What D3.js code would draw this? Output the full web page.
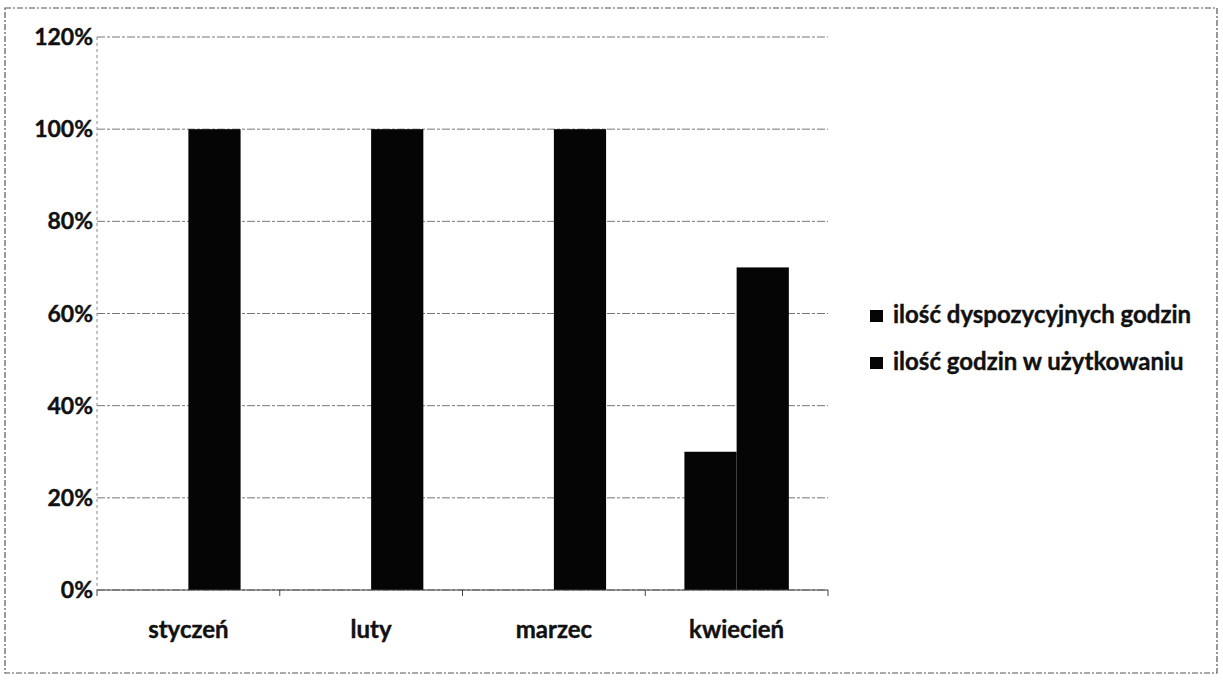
<!DOCTYPE html>
<html>
<head>
<meta charset="utf-8">
<script src="https://cdn.jsdelivr.net/npm/d3@7"></script>
<style>
  body { margin: 0; background: #fff; }
  svg text { font-family: Lato, "Open Sans", sans-serif; font-weight: bold; fill: #111; stroke: #111; stroke-width: 0.4px; }
</style>
</head>
<body>
<div id="chart"></div>
<script>
// data
var months = ["styczeń", "luty", "marzec", "kwiecień"];
var seriesNames = ["ilość dyspozycyjnych godzin", "ilość godzin w użytkowaniu"];
var dyspozycyjne = [0, 0, 0, 0.30];
var wUzytkowaniu = [1.00, 1.00, 1.00, 0.70];
var yTicks = [0, 0.2, 0.4, 0.6, 0.8, 1.0, 1.2];

var width = 1223, height = 680;
var margin = {left: 97, right: 395, top: 37, bottom: 90};

var svg = d3.select("#chart").append("svg")
  .attr("width", width)
  .attr("height", height);

// outer frame
svg.append("rect")
  .attr("x", 5).attr("y", 8)
  .attr("width", 1212).attr("height", 665)
  .attr("fill", "none")
  .attr("stroke", "#555")
  .attr("stroke-width", 1.2)
  .attr("stroke-dasharray", "6,2,2,2");

var x = d3.scaleBand()
  .domain(months)
  .range([margin.left, width - margin.right]);

var y = d3.scaleLinear()
  .domain([0, 1.2])
  .range([height - margin.bottom, margin.top]);

// gridlines
svg.append("g")
  .selectAll("line")
  .data(yTicks)
  .enter().append("line")
  .attr("x1", margin.left)
  .attr("x2", width - margin.right)
  .attr("y1", function(d) { return y(d); })
  .attr("y2", function(d) { return y(d); })
  .attr("stroke", "#777")
  .attr("stroke-width", 1)
  .attr("stroke-dasharray", "8,2,3,2");

// y axis line
svg.append("line")
  .attr("x1", margin.left).attr("x2", margin.left)
  .attr("y1", y(1.2)).attr("y2", y(0))
  .attr("stroke", "#888")
  .attr("stroke-dasharray", "3,3");

// bars (gap width 150%)
var inner = x.bandwidth() / 3.5;
var groups = [dyspozycyjne, wUzytkowaniu];
groups.forEach(function(vals, s) {
  svg.append("g")
    .selectAll("rect")
    .data(months)
    .enter().append("rect")
    .attr("x", function(d) { return x(d) + x.bandwidth() / 2 - inner + s * inner; })
    .attr("width", inner)
    .attr("y", function(d, i) { return y(vals[i]); })
    .attr("height", function(d, i) { return y(0) - y(vals[i]); })
    .attr("fill", "#050505");
});

// x axis
var xAxis = svg.append("g")
  .attr("transform", "translate(0," + y(0) + ")");
xAxis.append("line")
  .attr("x1", margin.left).attr("x2", width - margin.right)
  .attr("stroke", "#444").attr("stroke-width", 1.2);
xAxis.selectAll(".tk")
  .data(months.concat(["end"]))
  .enter().append("line")
  .attr("x1", function(d, i) { return i < months.length ? x(d) : x.range()[1]; })
  .attr("x2", function(d, i) { return i < months.length ? x(d) : x.range()[1]; })
  .attr("y1", 0).attr("y2", 6)
  .attr("stroke", "#444");
xAxis.selectAll("text")
  .data(months)
  .enter().append("text")
  .attr("x", function(d) { return x(d) + x.bandwidth() / 2; })
  .attr("y", 48)
  .attr("text-anchor", "middle")
  .style("font-size", "24px")
  .text(function(d) { return d; });

// y labels
svg.append("g")
  .selectAll("text")
  .data(yTicks)
  .enter().append("text")
  .attr("x", margin.left - 4)
  .attr("y", function(d) { return y(d) + 8; })
  .attr("text-anchor", "end")
  .style("font-size", "23px")
  .text(function(d) { return d3.format(".0%")(d); });

// legend
var legend = svg.append("g")
  .attr("transform", "translate(870,310)");
var item = legend.selectAll("g")
  .data(seriesNames)
  .enter().append("g")
  .attr("transform", function(d, i) { return "translate(0," + i * 47 + ")"; });
item.append("rect")
  .attr("width", 13).attr("height", 12)
  .attr("fill", "#050505");
item.append("text")
  .attr("x", 23)
  .attr("y", 13)
  .style("font-size", "24px")
  .text(function(d) { return d; });
</script>
</body>
</html>
